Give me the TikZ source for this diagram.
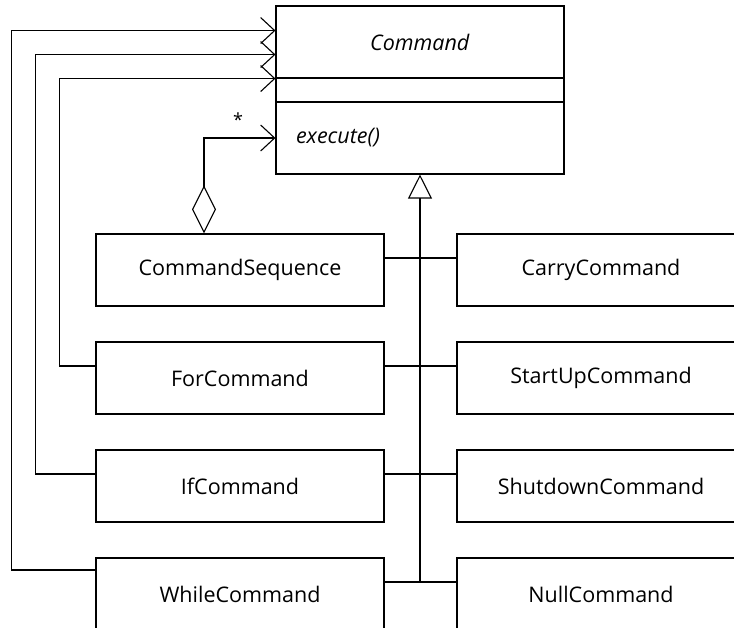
\documentclass[tikz,border=0pt]{standalone}
\usepackage{fontspec}
\setsansfont{Open Sans}
\usetikzlibrary{arrows.meta,positioning}
\newcommand{\umlfont}{\sffamily\fontsize{21.5}{26}\selectfont}
\tikzset{
  cls/.style={draw,line width=1.1pt,minimum width=288pt,minimum height=72pt,inner sep=0pt,font=\umlfont},
  nav/.style={line width=1.1pt,-{Straight Barb[length=14pt,width=26pt]}},
  agg/.style={line width=1.1pt,{Diamond[open,length=48pt,width=24pt]}-{Straight Barb[length=14pt,width=26pt]}},
  gen/.style={line width=1.1pt,-{Triangle[open,length=24pt,width=24pt]}}
}

\begin{document}
\begin{tikzpicture}[x=1pt,y=-1pt,line width=1.1pt]
  \clip (0,0) rectangle (734,628);
  \node[cls] (cmdname) at (420,42) {\textit{Command}};
  \node[cls,minimum height=24pt] (cmdattr) at (420,90) {};
  \node[cls,text width=248pt,align=left] (cmdops) at (420,138) {\textit{execute()}};
  \node[cls] (seq) at (240,270) {CommandSequence};
  \node[cls] (for) at (240,378) {ForCommand};
  \node[cls] (if) at (240,486) {IfCommand};
  \node[cls] (while) at (240,594) {WhileCommand};
  \node[cls] (carry) at (601,270) {CarryCommand};
  \node[cls] (startup) at (601,378) {StartUpCommand};
  \node[cls] (shutdown) at (601,486) {ShutdownCommand};
  \node[cls] (null) at (601,594) {NullCommand};
  \coordinate (hub) at (420,582);
  \foreach \l/\r in {seq/carry,for/startup,if/shutdown,while/null}
    \draw ([yshift=12pt]\l.east) -- ([yshift=12pt]\r.west);
  \draw[gen] (hub) -- (cmdops.south);
  \draw[agg] ([xshift=-36pt]seq.north) |- (cmdops.west);
  \node[font=\sffamily\fontsize{18}{22}\selectfont] (mult) at (238,120) {*};
  \draw[nav] ([yshift=12pt]for.west) -- ++(-36,0) |- (cmdname.south west);
  \draw[nav] ([yshift=12pt]if.west) -- ++(-60,0) |- ([yshift=24pt]cmdname.south west);
  \draw[nav] ([yshift=24pt]while.west) -- ++(-84,0) |- ([yshift=48pt]cmdname.south west);
\end{tikzpicture}
\end{document}
